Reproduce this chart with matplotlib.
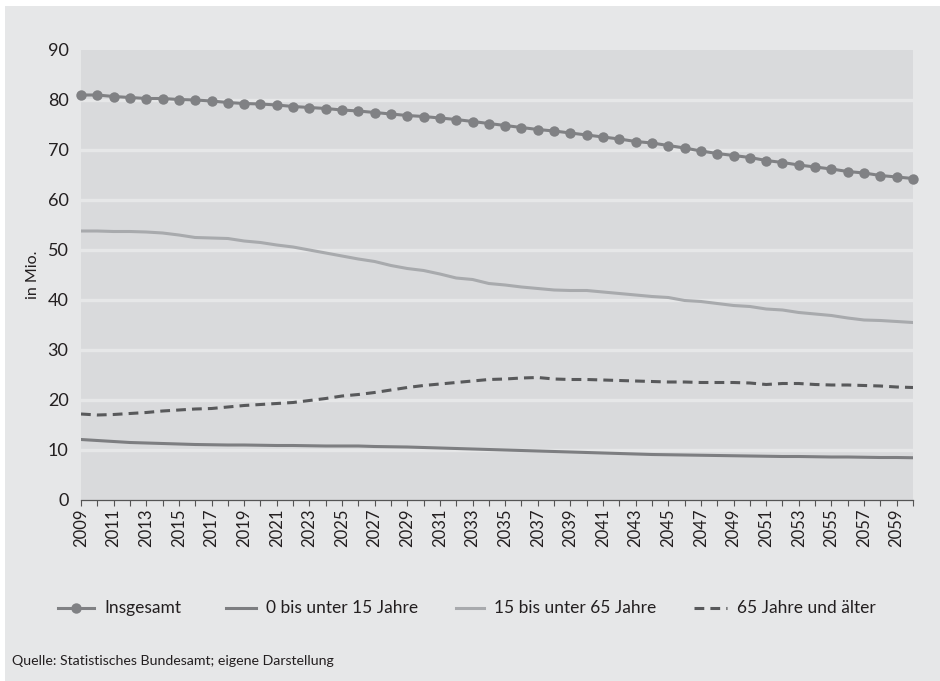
import matplotlib
matplotlib.use("Agg")
import matplotlib.pyplot as plt
from matplotlib.patches import Rectangle
from matplotlib.lines import Line2D

plt.rcParams['font.family'] = ['Lato', 'DejaVu Sans']

years = list(range(2009, 2061))

insgesamt = [81.0, 81.0, 80.7, 80.5, 80.3, 80.3, 80.1, 80.0, 79.8, 79.5,
             79.3, 79.2, 79.0, 78.7, 78.5, 78.3, 78.0, 77.8, 77.5, 77.2,
             76.9, 76.7, 76.4, 76.1, 75.7, 75.3, 74.9, 74.5, 74.1, 73.8,
             73.4, 73.0, 72.6, 72.2, 71.7, 71.4, 70.9, 70.4, 69.8, 69.3,
             68.9, 68.5, 67.9, 67.5, 67.0, 66.6, 66.2, 65.7, 65.4, 64.9,
             64.6, 64.3]

unter_15 = [12.1, 11.9, 11.7, 11.5, 11.4, 11.3, 11.2, 11.1, 11.05, 11.0,
            11.0, 10.95, 10.9, 10.9, 10.85, 10.8, 10.8, 10.8, 10.7, 10.65,
            10.6, 10.5, 10.4, 10.3, 10.2, 10.1, 10.0, 9.9, 9.8, 9.7,
            9.6, 9.5, 9.4, 9.3, 9.2, 9.1, 9.05, 9.0, 8.95, 8.9,
            8.85, 8.8, 8.75, 8.7, 8.7, 8.65, 8.6, 8.6, 8.55, 8.5,
            8.5, 8.45]

von_15_bis_65 = [53.8, 53.8, 53.7, 53.7, 53.6, 53.4, 53.0, 52.5, 52.4, 52.3,
                 51.8, 51.5, 51.0, 50.6, 50.0, 49.4, 48.8, 48.2, 47.7, 46.9,
                 46.3, 45.9, 45.2, 44.4, 44.1, 43.3, 43.0, 42.6, 42.3, 42.0,
                 41.9, 41.9, 41.6, 41.3, 41.0, 40.7, 40.5, 39.9, 39.7, 39.3,
                 38.9, 38.7, 38.2, 38.0, 37.5, 37.2, 36.9, 36.4, 36.0, 35.9,
                 35.7, 35.5]

ab_65 = [17.2, 17.0, 17.1, 17.3, 17.5, 17.8, 18.0, 18.2, 18.3, 18.6,
         18.9, 19.1, 19.3, 19.5, 19.9, 20.3, 20.8, 21.1, 21.5, 22.0,
         22.5, 22.9, 23.2, 23.5, 23.8, 24.1, 24.2, 24.4, 24.5, 24.2,
         24.1, 24.1, 24.0, 23.9, 23.8, 23.7, 23.6, 23.6, 23.5, 23.5,
         23.5, 23.4, 23.1, 23.3, 23.3, 23.1, 23.0, 23.0, 22.9, 22.8,
         22.6, 22.5]

series_labels = ["Insgesamt", "0 bis unter 15 Jahre", "15 bis unter 65 Jahre",
                 "65 Jahre und älter"]
y_ticks = list(range(0, 100, 10))
x_tick_years = list(range(2009, 2060, 2))

panel_bg = "#e6e7e8"
plot_bg = "#d9dadc"
text_col = "#231f20"
c_total = "#808184"
c_young = "#7d7e81"
c_mid = "#a8aaad"
c_old = "#58595b"
dash = (0, (3.2, 2.0))

W, H = 940, 681
fig = plt.figure(figsize=(W / 100, H / 100), dpi=100)
fig.patch.set_facecolor("white")
fig.add_artist(Rectangle((5 / W, 0), 1, 1 - 6 / H, transform=fig.transFigure,
                         facecolor=panel_bg, edgecolor="none", zorder=-10))

ax = fig.add_axes([81 / W, 1 - 500 / H, (913 - 81) / W, 450 / H])
ax.set_facecolor(plot_bg)

for v in y_ticks[1:-1]:
    ax.axhline(v, color=panel_bg, lw=2.4, zorder=1)

ax.plot(years, unter_15, color=c_young, lw=2.2, zorder=3)
ax.plot(years, von_15_bis_65, color=c_mid, lw=2.2, zorder=3)
ax.plot(years, ab_65, color=c_old, lw=2.2, ls=dash, zorder=3)
ax.plot(years, insgesamt, color=c_total, lw=2.2, marker="o", ms=7.5,
        markeredgewidth=0, zorder=4, clip_on=False)

ax.set_xlim(2009, 2060)
ax.set_ylim(0, 90)
ax.set_yticks(y_ticks)
ax.set_xticks(x_tick_years)
ax.set_xticks(years, minor=True)
ax.tick_params(axis="y", length=0, labelsize=13, labelcolor=text_col, pad=9)
ax.tick_params(axis="x", which="major", length=4, width=0.8, color="#555555",
               labelsize=12, labelrotation=90, labelcolor=text_col, pad=2)
ax.tick_params(axis="x", which="minor", length=4, width=0.8, color="#555555")

for side in ["top", "right", "left"]:
    ax.spines[side].set_visible(False)
ax.spines["bottom"].set_color("#555555")
ax.spines["bottom"].set_linewidth(0.9)

fig.text(33 / W, 1 - 275 / H, "in Mio.", rotation=90, ha="center", va="center",
         fontsize=11.5, color=text_col)

# legend row, laid out by hand in pixel coordinates
leg_y = 1 - 608 / H
entries = [
    (series_labels[0], dict(color=c_total, lw=2.2, marker="o", ms=7.5,
                            markeredgewidth=0, markevery=[1]), 58, 94, 104),
    (series_labels[1], dict(color=c_young, lw=2.2), 226, 256, 266),
    (series_labels[2], dict(color=c_mid, lw=2.2), 456, 484, 494),
    (series_labels[3], dict(color=c_old, lw=2.2, ls=dash), 694, 727, 737),
]
for label, style, x0, x1, xt in entries:
    fig.add_artist(Line2D([x0 / W, (x0 + x1) / 2 / W, x1 / W], [leg_y] * 3,
                          transform=fig.transFigure, **style))
    fig.text(xt / W, leg_y, label, ha="left", va="center", fontsize=12.5,
             color=text_col)

fig.text(12 / W, 1 - 661 / H, "Quelle: Statistisches Bundesamt; eigene Darstellung",
         ha="left", va="center", fontsize=10.2, color=text_col)

fig.savefig("out.png", dpi=100, facecolor=fig.get_facecolor())
